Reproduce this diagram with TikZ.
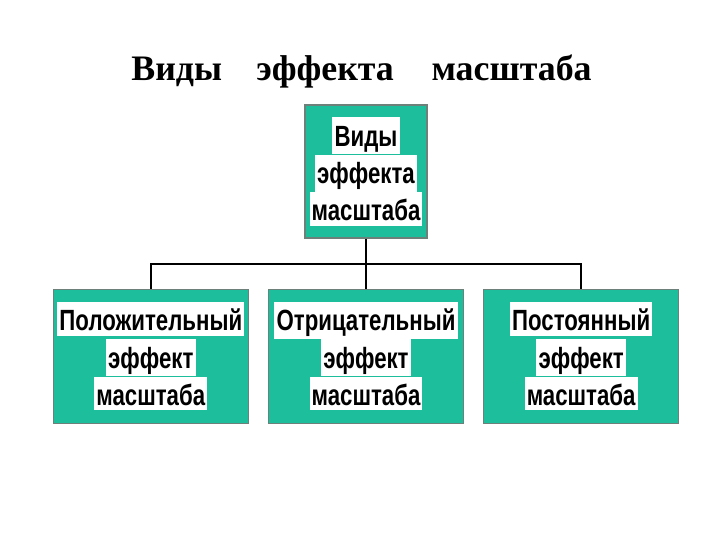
\documentclass[tikz,border=0pt]{standalone}
\usepackage{fontspec}
\setmainfont{Liberation Serif}
\newfontfamily\boxfont[FakeStretch=0.76]{Liberation Sans}
\usetikzlibrary{positioning}
\definecolor{boxteal}{HTML}{1DBE9B}
\definecolor{boxedge}{HTML}{6E807A}
\tikzset{
  title/.style={font=\bfseries\fontsize{25.5pt}{30pt}\selectfont},
  kindbox/.style={
    rectangle, draw=boxedge, line width=0.8pt, fill=boxteal,
    minimum width=4.875cm, minimum height=3.35cm, inner sep=0pt, align=center,
    font=\boxfont\bfseries\fontsize{20.8pt}{26.6pt}\selectfont
  },
  topbox/.style={kindbox, minimum width=3.05cm, minimum height=3.325cm},
  link/.style={line width=1.4pt, draw=black}
}
\newcommand{\whiteline}[1]{{\setlength{\fboxsep}{1.5pt}\colorbox{white}{\rule[-2pt]{0pt}{21pt}#1}}}

\begin{document}
\begin{tikzpicture}[x=0.025cm,y=-0.025cm]
\useasboundingbox (0,0) rectangle (720,540);
\node[title, anchor=base] (head) at (361.5,80) {Виды\hspace{0.86cm}эффекта\hspace{0.94cm}масштаба};
\node[topbox] (kinds) at (366,171.5) {\whiteline{Виды}\\\whiteline{эффекта}\\\whiteline{масштаба}};
\node[kindbox, below=1.25cm of kinds] (neg) {\whiteline{Отрицательный}\\\whiteline{эффект}\\\whiteline{масштаба}};
\node[kindbox, left=0.475cm of neg] (pos) {\whiteline{Положительный}\\\whiteline{эффект}\\\whiteline{масштаба}};
\node[kindbox, right=0.475cm of neg] (const) {\whiteline{Постоянный}\\\whiteline{эффект}\\\whiteline{масштаба}};
\coordinate (bus) at (366,264);
\draw[link] (kinds.south) -- (neg.north);
\draw[link] (bus) -| (pos.north);
\draw[link] (bus) -| (const.north);
\end{tikzpicture}
\end{document}
